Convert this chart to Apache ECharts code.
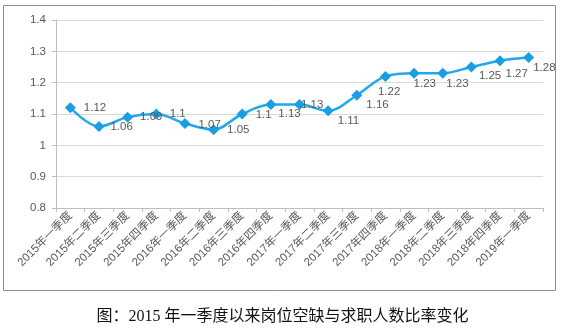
<!DOCTYPE html>
<html><head><meta charset="utf-8">
<script src="https://cdn.jsdelivr.net/npm/echarts@6/dist/echarts.min.js"></script>
<style>html,body{margin:0;padding:0;background:#fff}#c{width:565px;height:332px}</style>
</head><body><div id="c"></div>
<script>
var categories = ['2015年一季度','2015年二季度','2015年三季度','2015年四季度','2016年一季度','2016年二季度','2016年三季度','2016年四季度','2017年一季度','2017年二季度','2017年三季度','2017年四季度','2018年一季度','2018年二季度','2018年三季度','2018年四季度','2019年一季度'];
var ratios = [1.12,1.06,1.09,1.1,1.07,1.05,1.1,1.13,1.13,1.11,1.16,1.22,1.23,1.23,1.25,1.27,1.28];
var yTicks = {min:0.8, max:1.4, interval:0.1};
var caption = '图：2015 年一季度以来岗位空缺与求职人数比率变化';
// label style offsets (presentation only)
var labelOffsets = [[0,0],[-2,0],[-1,0],[0,0],[0,1],[0,0],[0,1],[-6,9],[-12,0],[-4,10],[-4,10],[-21,15],[-14,11],[-10,11],[-6,9],[-8,13],[-9,10]];

var chart = echarts.init(document.getElementById('c'), null, {renderer:'canvas'});
var seriesData = ratios.map(function(v,i){
  return {value:v, label:{offset:labelOffsets[i]}};
});
chart.setOption({
  animation:false,
  backgroundColor:'#fff',
  grid:{left:56, right:22, top:20, bottom:124, containLabel:false},
  graphic:[
    {type:'rect', shape:{x:3.5,y:5.5,width:552,height:285}, style:{fill:null, stroke:'#8c8c8c', lineWidth:1}, z:-1},
    {type:'text', left:'center', top:309, style:{text:caption, font:'16px "Liberation Serif", "Noto Sans CJK SC"', fill:'#111'}}
  ],
  xAxis:{
    type:'category', data:categories, boundaryGap:true,
    axisLine:{lineStyle:{color:'#bfbfbf'}},
    axisTick:{show:true, alignWithLabel:false, length:4, lineStyle:{color:'#bfbfbf'}},
    axisLabel:{rotate:45, interval:0, margin:6, fontSize:11.5, color:'#595959', fontFamily:'"Liberation Sans", "Noto Sans CJK SC"'}
  },
  yAxis:{
    type:'value', min:yTicks.min, max:yTicks.max, interval:yTicks.interval,
    axisLine:{show:true, lineStyle:{color:'#bfbfbf'}},
    axisTick:{show:true, length:4, lineStyle:{color:'#bfbfbf'}},
    splitLine:{lineStyle:{color:'#d9d9d9'}},
    axisLabel:{margin:10, fontSize:11.5, color:'#595959', fontFamily:'"Liberation Sans", sans-serif'}
  },
  series:[{
    type:'line', data:seriesData, smooth:0.35,
    symbol:'diamond', symbolSize:11,
    lineStyle:{color:'#1fa9ec', width:2.5},
    itemStyle:{color:'#1a9de2'},
    label:{show:true, position:'right', distance:8, fontSize:11.5, color:'#595959', fontFamily:'"Liberation Sans", sans-serif'}
  }]
});
</script></body></html>
